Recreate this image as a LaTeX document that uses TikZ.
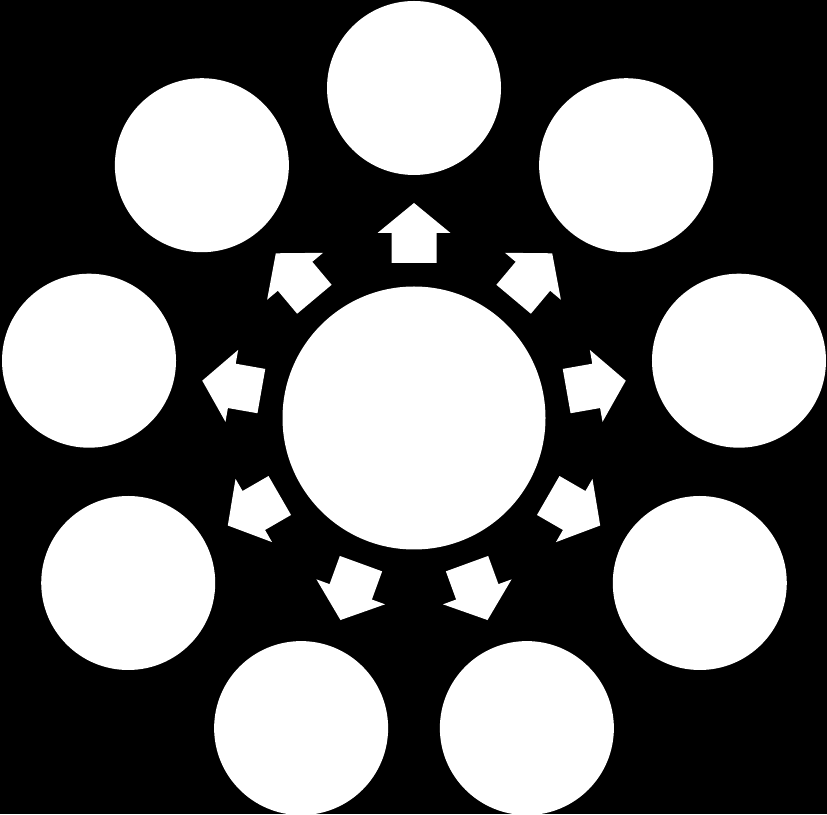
\documentclass[tikz,border=0pt]{standalone}
\usetikzlibrary{calc}
\begin{document}
\begin{tikzpicture}[x=1pt,y=1pt,
  outercirc/.style={circle, fill=white, draw=none, minimum size=174pt, inner sep=0pt},
  centercirc/.style={circle, fill=white, draw=none, minimum size=263pt, inner sep=0pt},
  blockarrow/.style={fill=white}]
\fill[black] (0,0) rectangle (827,814);
\useasboundingbox (0,0) rectangle (827,814);
\coordinate (c) at (414,396);
\node[centercirc] (center) at (c) {};
\foreach \i in {0,...,8}{
  \pgfmathsetmacro{\ang}{90-40*\i}
  \node[outercirc] (o\i) at ($(c)+(\ang:330)$) {};
  \begin{scope}[shift={($(c)+(\ang:185)$)}, rotate=\ang]
    \fill[blockarrow] (-30,-22.5) -- (0,-22.5) -- (0,-36.5) -- (30,0) -- (0,36.5) -- (0,22.5) -- (-30,22.5) -- cycle;
  \end{scope}
}
\end{tikzpicture}
\end{document}
